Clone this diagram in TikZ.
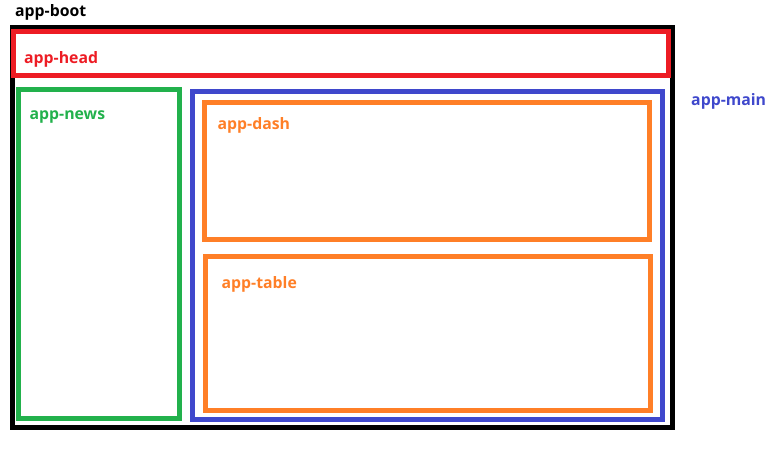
\documentclass[tikz,border=0pt]{standalone}
\usepackage{fontspec}
\setmainfont{Open Sans}
\definecolor{pRed}{HTML}{ED1C24}
\definecolor{pGreen}{HTML}{22B14C}
\definecolor{pBlue}{HTML}{3F48CC}
\definecolor{pOrange}{HTML}{FF7F27}
\begin{document}
\begin{tikzpicture}[x=1pt,y=-1pt,
  frame/.style={line width=5pt, line join=miter},
  lbl/.style={anchor=base west, inner sep=0pt, font=\fontsize{15.8}{18}\selectfont\bfseries}]
\useasboundingbox (0,0) rectangle (776,455);
\draw[frame, black] (12.5,27) rectangle (672.5,427.5);
\draw[frame, pRed] (13.5,31.5) rectangle (668.5,75.5);
\draw[frame, pGreen] (18.5,89.5) rectangle (179,418.5);
\draw[frame, pBlue] (192.5,91) rectangle (662.5,419);
\draw[frame, pOrange] (204,102.5) rectangle (649.5,239);
\draw[frame, pOrange] (205,256) rectangle (650.5,410.5);
\node[lbl, text=black] (boot) at (15,16.5) {app-boot};
\node[lbl, text=pRed] (head) at (24,63) {app-head};
\node[lbl, text=pGreen] (news) at (29.5,119) {app-news};
\node[lbl, text=pOrange] (dash) at (217.5,129) {app-dash};
\node[lbl, text=pBlue] (main) at (691,105.5) {app-main};
\node[lbl, text=pOrange] (table) at (221.5,288) {app-table};
\end{tikzpicture}
\end{document}
